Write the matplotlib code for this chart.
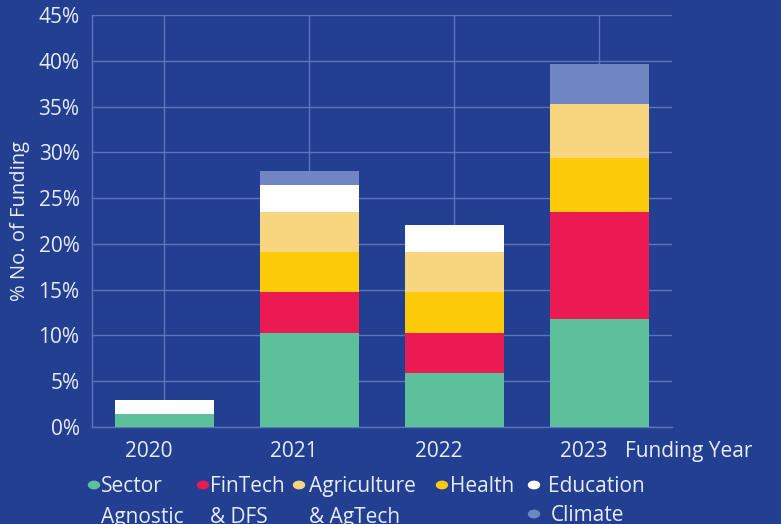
import numpy as np
import matplotlib
matplotlib.use('Agg')
import matplotlib.pyplot as plt
import matplotlib.transforms as mtransforms

# data (% of number of fundings)
years = ['2020', '2021', '2022', '2023']
sector_agnostic = [1.47, 10.29, 5.88, 11.76]
fintech = [0.0, 4.41, 4.41, 11.76]
health = [0.0, 4.41, 4.41, 5.88]
agriculture = [0.0, 4.41, 4.41, 5.88]
education = [1.47, 2.94, 2.94, 0.0]
climate = [0.0, 1.47, 0.0, 4.41]

series = [sector_agnostic, fintech, health, agriculture, education, climate]
colors = ['#5ec09a', '#ec1a52', '#fdcb0a', '#f8d67f', '#ffffff', '#6f86c2']

bg = '#233f92'
txt = '#e8ecf6'
grid = '#5b74bb'
plt.rcParams['font.family'] = ['Open Sans', 'DejaVu Sans']

fig = plt.figure(figsize=(7.81, 5.24), dpi=100)
fig.patch.set_facecolor(bg)
ax = fig.add_axes([0.1178, 0.1851, 0.7426, 0.7863])
ax.set_facecolor(bg)

x = np.arange(len(years))
bottom = np.zeros(len(years))
for vals, c in zip(series, colors):
    ax.bar(x, vals, bottom=bottom, width=0.68, color=c, zorder=3)
    bottom += np.array(vals)

ax.set_xlim(-0.5, 3.5)
ax.set_ylim(0, 45)
ax.set_yticks(np.arange(0, 46, 5))
ax.set_yticklabels(['{}%'.format(v) for v in range(0, 46, 5)])
ax.set_xticks(x)
ax.set_xticklabels(years)
ax.grid(True, color=grid, linewidth=1, zorder=0)
ax.tick_params(length=0, colors=txt, labelsize=15)
ax.tick_params(axis='x', pad=10)
ax.tick_params(axis='y', pad=9)
# year labels sit a little left of the bar centres
shift = mtransforms.ScaledTranslation(-0.16, 0, fig.dpi_scale_trans)
for lbl in ax.get_xticklabels():
    lbl.set_transform(lbl.get_transform() + shift)
for s in ['top', 'right']:
    ax.spines[s].set_visible(False)
for s in ['left', 'bottom']:
    ax.spines[s].set_color(grid)
    ax.spines[s].set_linewidth(1)
ax.set_ylabel('% No. of Funding', color=txt, fontsize=14.5, labelpad=6)

fig.text(625 / 781, 1 - 451 / 524, 'Funding Year', color=txt, fontsize=15,
         ha='left', va='center')

# custom legend
leg_labels = ['Sector\nAgnostic', 'FinTech\n& DFS', 'Agriculture\n& AgTech',
              'Health', 'Education', 'Climate']
leg_colors = ['#5ec09a', '#ec1a52', '#f8d67f', '#fdcb0a', '#ffffff', '#6f86c2']
dot_x = [94, 203, 299, 442, 534, 534]
dot_y = [485, 485, 485, 485, 485, 514]
text_x = [101, 210, 309, 450, 548, 551]
for lab, c, dx, dy, tx in zip(leg_labels, leg_colors, dot_x, dot_y, text_x):
    fig.patches.append(matplotlib.patches.Circle(
        (dx / 781, 1 - dy / 524), 5.5 / 781, transform=fig.transFigure,
        color=c, figure=fig))
    fig.text(tx / 781, 1 - (dy - 9) / 524, lab, color=txt, fontsize=15,
             ha='left', va='top', linespacing=1.6)

fig.savefig('out.png', dpi=100, facecolor=bg)
